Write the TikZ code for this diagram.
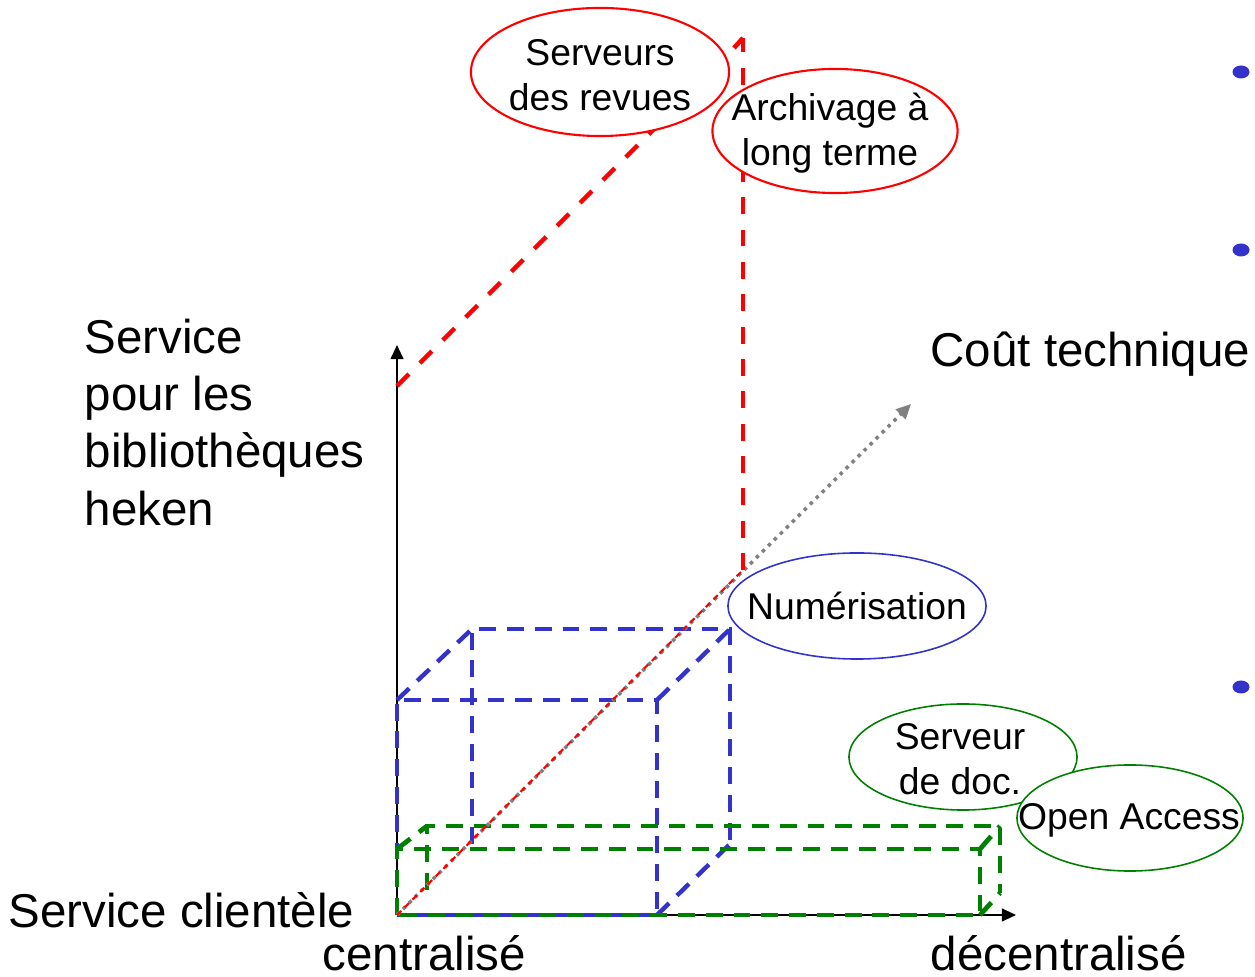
\documentclass[tikz,border=0pt]{standalone}
\usepackage{fontspec}
\setmainfont{Liberation Sans}
\usetikzlibrary{arrows.meta,shapes.geometric}
\definecolor{myblue}{RGB}{51,51,204}
\definecolor{mygreen}{RGB}{0,128,0}

\begin{document}
\begin{tikzpicture}[x=0.01cm, y=-0.01cm,
    bigtext/.style={font=\fontsize{13.5pt}{16.3pt}\selectfont, inner sep=0pt},
    bubble/.style={ellipse, draw, fill=white, line width=0.6pt, inner sep=0pt},
    bubbletext/.style={align=center, inner sep=0pt, font=\fontsize{10.6pt}{12.8pt}\selectfont},
    reddash/.style={red, line width=1.3pt, dash pattern=on 4.8pt off 4.4pt},
    bluedash/.style={myblue, line width=1.25pt, dash pattern=on 4.8pt off 3.1pt},
    greendash/.style={mygreen, line width=1.35pt, dash pattern=on 4.8pt off 3.1pt},
    axis/.style={line width=0.6pt, -{Triangle[length=4pt,width=3.6pt]}}]
    \useasboundingbox (0,0) rectangle (1255,977);

    % Axes
    \coordinate (O) at (397,915);
    \coordinate (ytip) at (397,345);
    \coordinate (xtip) at (1016,915);
    \coordinate (ztip) at (911,404);
    \draw[axis] (O) -- (ytip);
    \draw[axis] (O) -- (xtip);

    % Blue cube (Numérisation)
    \draw[bluedash] (O) -- (397,700) -- (657,700) -- (657,915) -- cycle;
    \draw[bluedash] (472,844) -- (472,629) -- (730,629) -- (730,844);
    \draw[bluedash] (397,700) -- (472,629);
    \draw[bluedash] (657,700) -- (730,629);
    \draw[bluedash] (657,915) -- (730,844);

    % Green flat box (Serveur de doc., Open Access)
    \draw[greendash] (O) -- (397,849) -- (980,849) -- (980,915) -- cycle;
    \draw[greendash] (427,890) -- (427,826) -- (1000,826) -- (1000,893);
    \draw[greendash] (397,849) -- (427,826);
    \draw[greendash] (980,849) -- (1000,826);
    \draw[greendash] (980,915) -- (1000,893);

    % Third axis (dotted) and red diagonal
    \draw[gray, line width=1pt, dash pattern=on 1pt off 1.4pt,
          -{Triangle[length=4.2pt,width=3.8pt]}] (O) -- (ztip);
    \coordinate (rfoot) at (743,570);
    \draw[red, line width=0.6pt, dash pattern=on 1.7pt off 1.4pt] (O) -- (rfoot);

    % Red dashed lines
    \coordinate (rtop) at (743,38);
    \draw[reddash] (rfoot) -- (rtop);
    \draw[red, line width=1.3pt] (rtop) -- (734,48);
    \draw[reddash] (397,386) -- (660,123);

    % Ellipses
    \node[bubble, draw=red, minimum width=2.58cm, minimum height=1.28cm] (srv) at (600,72) {};
    \node[bubbletext] at (600,75) {Serveurs\\des revues};
    \node[bubble, draw=red, minimum width=2.45cm, minimum height=1.24cm] (arch) at (835,131) {};
    \node[bubbletext] at (830,133) {Archivage à\\long terme};
    \node[bubble, draw=myblue, line width=0.45pt, minimum width=2.58cm, minimum height=1.06cm] (num) at (857,606) {};
    \node[bubbletext] at (num) {Numérisation};
    \node[bubble, draw=mygreen, line width=0.45pt, minimum width=2.28cm, minimum height=1.06cm] (doc) at (963,757) {};
    \node[bubbletext] at (960,759) {Serveur\\de doc.};
    \node[bubble, draw=mygreen, line width=0.45pt, minimum width=2.26cm, minimum height=1.06cm] (oa) at (1130,818) {};
    \node[bubbletext] at (1129,820) {Open Access};

    % Axis labels
    \node[bigtext, align=left, anchor=north west] (ylab) at (84,318)
        {Service\\pour les\\bibliothèques\\heken};
    \node[bigtext, anchor=base west] (zlab) at (930,367) {Coût technique};
    \node[bigtext, anchor=base west] (olab) at (8,928) {Service clientèle};
    \node[bigtext, anchor=base west] (cen) at (322,971) {centralisé};
    \node[bigtext, anchor=base west] (dec) at (930,971) {décentralisé};

    % Bullets
    \foreach \y in {72,250,687}
        \fill[myblue] (1241,\y) ellipse (0.085cm and 0.065cm);
\end{tikzpicture}
\end{document}
